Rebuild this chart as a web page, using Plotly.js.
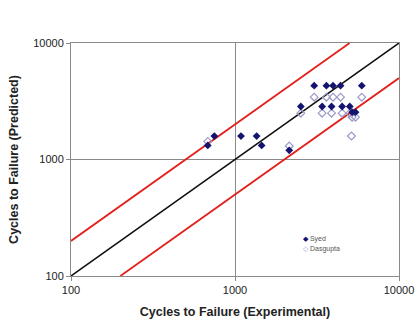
<!DOCTYPE html>
<html>
<head>
<meta charset="utf-8">
<script src="https://cdn.plot.ly/plotly-3.0.1.min.js"></script>
<style>html,body{margin:0;padding:0;background:#fff;}#chart{width:418px;height:321px;}</style>
</head>
<body>
<div id="chart"></div>
<script>
// Data
var syedExp  = [3040, 3610, 3960, 4400, 5930, 2520, 3400, 3880, 4500, 5010, 5180, 5430, 748, 1088, 1355, 682, 1454, 2141];
var syedPred = [4300, 4300, 4300, 4300, 4300, 2850, 2850, 2850, 2850, 2850, 2550, 2550, 1590, 1590, 1590, 1320, 1320, 1200];
var dasExp   = [3040, 3610, 3960, 4400, 5930, 2520, 3400, 3880, 4500, 5010, 5180, 5430, 5130, 682, 2141];
var dasPred  = [3430, 3430, 3430, 3430, 3430, 2500, 2500, 2500, 2500, 2500, 2310, 2310, 1590, 1430, 1305];
var equalX = [100, 10000], equalY = [100, 10000];
var upperX = [100, 5000],  upperY = [200, 10000];
var lowerX = [200, 10000], lowerY = [100, 5000];
var tickVals = [100, 1000, 10000];
var tickText = ['100', '1000', '10000'];
var seriesNames = ['Syed', 'Dasgupta'];

var navy = '#141470', light = '#9a9ac8';
var traces = [
  {x: equalX, y: equalY, mode: 'lines', line: {color: '#111', width: 1.5}, showlegend: false, hoverinfo: 'skip'},
  {x: upperX, y: upperY, mode: 'lines', line: {color: '#e3211c', width: 1.8}, showlegend: false, hoverinfo: 'skip'},
  {x: lowerX, y: lowerY, mode: 'lines', line: {color: '#e3211c', width: 1.8}, showlegend: false, hoverinfo: 'skip'},
  {x: dasExp, y: dasPred, mode: 'markers', name: seriesNames[1], showlegend: false,
   marker: {symbol: 'diamond-open', size: 6, color: light, line: {color: light, width: 1.2}}},
  {x: syedExp, y: syedPred, mode: 'markers', name: seriesNames[0], showlegend: false,
   marker: {symbol: 'diamond', size: 6, color: navy}}
];

var axisCommon = {
  type: 'log', range: [2, 4], tickvals: tickVals, ticktext: tickText,
  showgrid: true, gridcolor: '#8a8a8a', gridwidth: 1,
  showline: true, linecolor: '#8a8a8a', linewidth: 1, mirror: true,
  ticks: 'outside', ticklen: 4, tickcolor: '#8a8a8a',
  tickfont: {family: 'Liberation Sans, Arial, sans-serif', size: 11, color: '#222'},
  zeroline: false, automargin: false
};

var layout = {
  width: 418, height: 321,
  margin: {l: 71, r: 19, t: 43, b: 45},
  paper_bgcolor: '#fff', plot_bgcolor: '#fff',
  showlegend: false,
  xaxis: Object.assign({}, axisCommon, {
    title: {text: '<b>Cycles to Failure (Experimental)</b>', standoff: 12,
            font: {family: 'Liberation Sans, Arial, sans-serif', size: 12.5, color: '#222'}}
  }),
  yaxis: Object.assign({}, axisCommon, {
    title: {text: '<b>Cycles to Failure (Predicted)</b>', standoff: 11,
            font: {family: 'Liberation Sans, Arial, sans-serif', size: 12.5, color: '#222'}}
  }),
  annotations: [
    {xref: 'paper', yref: 'paper', x: 0.70, y: 0.157, xanchor: 'left', yanchor: 'middle', showarrow: false,
     text: '<span style="color:' + navy + '">◆</span> ' + seriesNames[0],
     font: {family: 'Liberation Sans, Arial, sans-serif', size: 7, color: '#555'}},
    {xref: 'paper', yref: 'paper', x: 0.70, y: 0.114, xanchor: 'left', yanchor: 'middle', showarrow: false,
     text: '<span style="color:' + light + '">◇</span> ' + seriesNames[1],
     font: {family: 'Liberation Sans, Arial, sans-serif', size: 7, color: '#555'}}
  ]
};

Plotly.newPlot('chart', traces, layout, {staticPlot: true, displayModeBar: false});
</script>
</body>
</html>
